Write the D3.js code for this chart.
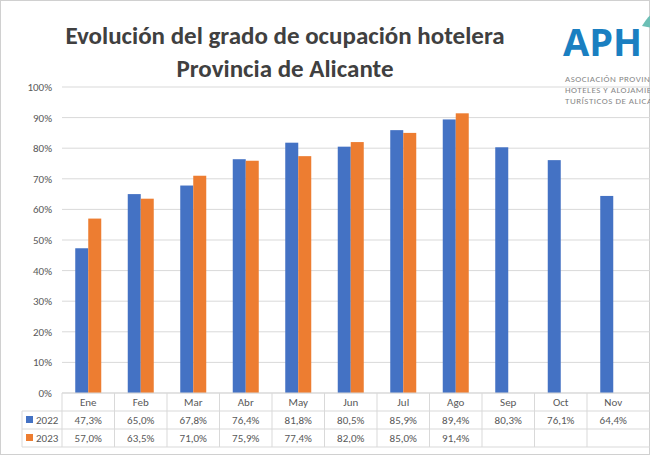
<!DOCTYPE html><html><head><meta charset="utf-8"><script src="https://cdn.jsdelivr.net/npm/d3@7"></script>
<style>body{margin:0;background:#fff}svg{font-family:Calibri,Carlito,"Liberation Sans",Arial,sans-serif}</style></head><body><svg id="c" width="650" height="455"></svg>
<script>
const months=["Ene","Feb","Mar","Abr","May","Jun","Jul","Ago","Sep","Oct","Nov","Dic"];
const s2022=[47.3,65.0,67.8,76.4,81.8,80.5,85.9,89.4,80.3,76.1,64.4,null];
const s2023=[57.0,63.5,71.0,75.9,77.4,82.0,85.0,91.4,null,null,null,null];
const yTicks=[0,10,20,30,40,50,60,70,80,90,100];
const series=[{name:"2022",vals:s2022,color:"#4472C4"},{name:"2023",vals:s2023,color:"#ED7D31"}];
const svg=d3.select("#c");
svg.append("rect").attr("x",0.5).attr("y",0.5).attr("width",649).attr("height",454).attr("fill","#fff").attr("stroke","#d0d0d0");
const x=d3.scaleBand().domain(months).range([62,692]);
const y=d3.scaleLinear().domain([0,100]).range([393,87]);
const fmt=v=>v==null?"":v.toFixed(1).replace(".",",")+"%";
svg.append("g").selectAll("line").data(yTicks).join("line").attr("x1",62).attr("x2",650).attr("y1",d=>y(d)).attr("y2",d=>y(d)).attr("stroke","#d9d9d9");
svg.append("g").selectAll("text").data(yTicks).join("text").attr("x",52).attr("y",d=>y(d)+4).attr("text-anchor","end").attr("font-size",11).attr("fill","#595959").text(d=>d+"%");
const bw=13;
series.forEach((s,i)=>{svg.append("g").selectAll("rect").data(months.map((m,j)=>({m,v:s.vals[j]})).filter(d=>d.v!=null)).join("rect")
 .attr("x",d=>x(d.m)+x.bandwidth()/2-bw+i*bw).attr("width",bw).attr("y",d=>y(d.v)).attr("height",d=>393-y(d.v)).attr("fill",s.color);});
const rows=[393,411,429,447];
const tg=svg.append("g");
tg.selectAll("line.h").data(rows).join("line").attr("x1",(d,i)=>i==0?62:22).attr("x2",650).attr("y1",d=>d).attr("y2",d=>d).attr("stroke","#d9d9d9");
tg.append("line").attr("x1",22).attr("x2",22).attr("y1",411).attr("y2",447).attr("stroke","#d9d9d9");
tg.selectAll("line.v").data(months.slice(0,11)).join("line").attr("x1",d=>x(d)).attr("x2",d=>x(d)).attr("y1",393).attr("y2",447).attr("stroke","#d9d9d9");
tg.selectAll("text.m").data(months).join("text").attr("x",d=>x(d)+x.bandwidth()/2).attr("y",406).attr("text-anchor","middle").attr("font-size",11).attr("fill","#595959").text(d=>d);
series.forEach((s,i)=>{const yy=rows[i+1]+13;
 tg.append("rect").attr("x",26).attr("y",yy-8).attr("width",7).attr("height",7).attr("fill",s.color);
 tg.append("text").attr("x",36).attr("y",yy).attr("font-size",11).attr("fill","#595959").text(s.name);
 tg.selectAll(null).data(months.map((m,j)=>({m,v:s.vals[j]}))).join("text").attr("x",d=>x(d.m)+x.bandwidth()/2).attr("y",yy).attr("text-anchor","middle").attr("font-size",11).attr("fill","#595959").text(d=>fmt(d.v));});
svg.append("text").attr("x",285).attr("y",44).attr("text-anchor","middle").attr("font-size",25).attr("font-weight","bold").attr("fill","#404040").text("Evolución del grado de ocupación hotelera");
svg.append("text").attr("x",285).attr("y",77).attr("text-anchor","middle").attr("font-size",25).attr("font-weight","bold").attr("fill","#404040").text("Provincia de Alicante");
svg.append("text").attr("x",563).attr("y",56).attr("font-size",38).attr("font-weight","bold").attr("fill","#1a7fc1").attr("font-family","'Open Sans',sans-serif").text("APH");
svg.append("path").attr("d","M642,26 q6,-10 10,-12 v14 z").attr("fill","#6cbfb5");
["ASOCIACIÓN PROVINCIAL","HOTELES Y ALOJAMIENTOS","TURÍSTICOS DE ALICANTE"].forEach((t,i)=>svg.append("text").attr("x",565).attr("y",82+i*11).attr("font-size",9).attr("fill","#888").attr("letter-spacing",0.5).text(t));
</script></body></html>
